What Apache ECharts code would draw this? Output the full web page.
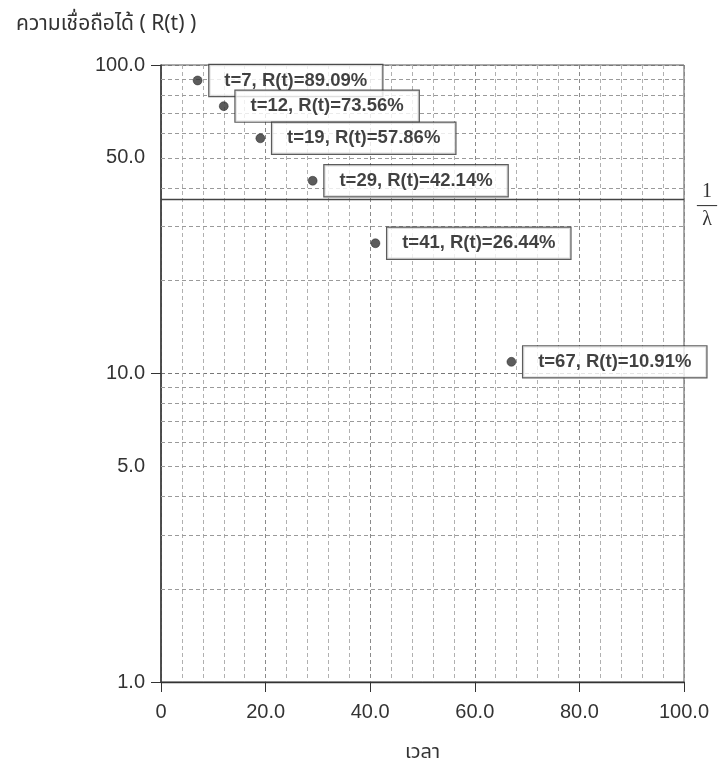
<!DOCTYPE html>
<html>
<head>
<meta charset="utf-8">
<script src="https://cdn.jsdelivr.net/npm/echarts@6/dist/echarts.min.js"></script>
<style>
html,body{margin:0;padding:0;background:#fff;}
#c{width:720px;height:769px;}
</style>
</head>
<body>
<div id="c"></div>
<script>
// ---- data ----
var times = [7, 12, 19, 29, 41, 67];
var reliability = [89.09, 73.56, 57.86, 42.14, 26.44, 10.91];
var xTickLabels = ['0', '20.0', '40.0', '60.0', '80.0', '100.0'];
var yLabelValues = [1, 5, 10, 50, 100];
var yGridValues = [2, 3, 4, 5, 6, 7, 8, 9, 20, 30, 40, 50, 60, 70, 80, 90];
var meanLifeLevel = 36.79; // R(t) at t = 1/lambda
var yTitle = 'ความเชื่อถือได้ ( R(t) )';
var xTitle = 'เวลา';

var points = times.map(function (t, i) { return [t, reliability[i]]; });

var thaiFont = '"Noto Sans Thai", "Noto Sans", "DejaVu Sans", sans-serif';
var numFont = '"Liberation Sans", Arial, sans-serif';
var serifFont = '"Liberation Serif", "DejaVu Serif", serif';

var markData = [];
yGridValues.forEach(function (v) {
  markData.push({
    yAxis: v,
    lineStyle: { color: '#9a9a9a', width: 1, type: [4, 3] },
    label: { show: false }
  });
});
yLabelValues.forEach(function (v) {
  markData.push({
    yAxis: v,
    lineStyle: { color: 'rgba(0,0,0,0)', width: 0 },
    label: {
      show: true, position: 'start', distance: 16,
      formatter: v.toFixed(1),
      fontFamily: numFont, fontSize: 20, color: '#333'
    }
  });
});
markData.push({
  yAxis: meanLifeLevel,
  lineStyle: { color: '#444', width: 1.3, type: 'solid' },
  label: {
    show: true, position: 'end', distance: 14,
    padding: [13, 0, 0, 0],
    formatter: '{n|1}\n{b|—}\n{d|λ}',
    color: '#333',
    rich: {
      n: { fontFamily: serifFont, fontSize: 20, color: '#333', width: 18, align: 'center', lineHeight: 20 },
      b: { fontFamily: serifFont, fontSize: 20, color: '#333', width: 18, align: 'center', lineHeight: 8 },
      d: { fontFamily: serifFont, fontSize: 20, color: '#333', width: 18, align: 'center', lineHeight: 20 }
    }
  }
});

var chart = echarts.init(document.getElementById('c'), null, { renderer: 'canvas' });
chart.setOption({
  animation: false,
  backgroundColor: '#fff',
  title: {
    text: yTitle,
    left: 11, top: 10,
    textStyle: { fontFamily: thaiFont, fontSize: 21, fontWeight: 'normal', color: '#333' }
  },
  grid: {
    left: 161, right: 36, top: 65, bottom: 80,
    show: true, borderColor: '#555', borderWidth: 1
  },
  xAxis: {
    type: 'value', min: 0, max: 100, interval: 20,
    name: xTitle, nameLocation: 'middle', nameGap: 62,
    nameTextStyle: { fontFamily: thaiFont, fontSize: 20, color: '#333' },
    axisLine: { show: true, onZero: false, lineStyle: { color: '#333', width: 1.3 } },
    axisTick: { show: true, inside: false, length: 10, lineStyle: { color: '#333' } },
    axisLabel: {
      margin: 20, fontFamily: numFont, fontSize: 20, color: '#333',
      formatter: function (v) { return xTickLabels[Math.round(v / 20)]; }
    },
    splitLine: { show: true, lineStyle: { color: '#8a8a8a', width: 1, type: [4, 3] } },
    minorTick: { show: false, splitNumber: 5 },
    minorSplitLine: { show: true, lineStyle: { color: '#b0b0b0', width: 1, type: [4, 3] } }
  },
  yAxis: {
    type: 'log', logBase: 10, min: 1, max: 100,
    axisLine: { show: true, lineStyle: { color: '#333', width: 1.5 } },
    axisTick: { show: true, inside: false, length: 10, lineStyle: { color: '#333' } },
    axisLabel: { show: false },
    splitLine: { show: true, lineStyle: { color: '#777', width: 1, type: [4, 3] } }
  },
  series: [{
    type: 'scatter',
    data: points,
    symbol: 'circle',
    symbolSize: 9,
    itemStyle: { color: '#333', borderColor: '#111', borderWidth: 0.5 },
    label: {
      show: true,
      position: 'right',
      distance: 7,
      offset: [0, -11],
      formatter: function (p) {
        return 't=' + p.value[0] + ', R(t)=' + p.value[1].toFixed(2) + '%';
      },
      fontFamily: numFont, fontSize: 18.5, fontWeight: 'bold', color: '#111',
      backgroundColor: '#ffffff', borderColor: '#333', borderWidth: 1.2,
      padding: [6, 15, 6, 15]
    },
    labelLayout: { hideOverlap: false },
    z: 5,
    markLine: {
      silent: true,
      symbol: 'none',
      animation: false,
      data: markData
    }
  }]
});
</script>
</body>
</html>
